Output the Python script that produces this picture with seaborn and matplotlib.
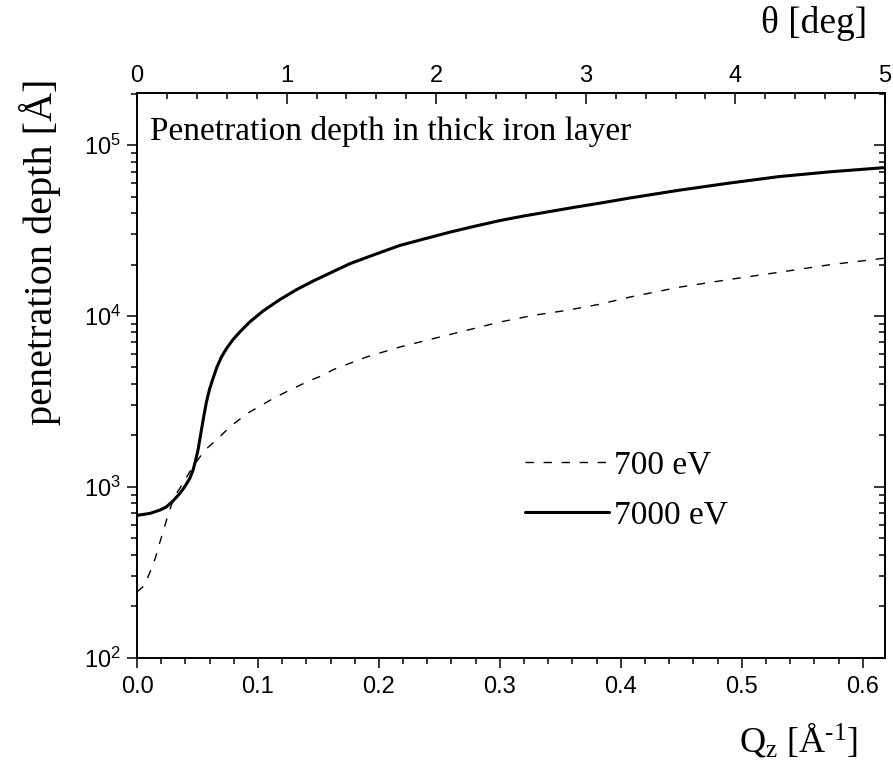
import numpy as np
import pandas as pd
import matplotlib
matplotlib.use("Agg")
import matplotlib.pyplot as plt
import seaborn as sns
from matplotlib.ticker import (MultipleLocator, LogLocator, FuncFormatter,
                               NullFormatter, FixedLocator)

# ---------------- data ----------------
qz_700 = [0.0, 0.0064, 0.0091, 0.0127, 0.0155, 0.0182, 0.0215, 0.0248, 0.0284,
          0.0326, 0.038, 0.0436, 0.0491, 0.056, 0.0642, 0.0683, 0.0766, 0.0849,
          0.0931, 0.1028, 0.1124, 0.1221, 0.1317, 0.1427, 0.1537, 0.162,
          0.1896, 0.2171, 0.2446, 0.2722, 0.2998, 0.3273, 0.3548, 0.3824,
          0.4072, 0.4485, 0.4898, 0.5312, 0.5725, 0.6184]
depth_700 = [242, 265, 297, 340, 389, 455, 544, 652, 780, 913, 1045, 1222,
             1397, 1635, 1840, 1955, 2238, 2482, 2737, 2997, 3280, 3556, 3837,
             4180, 4490, 4842, 5745, 6570, 7355, 8225, 9200, 10070, 10770,
             11700, 12880, 14740, 16350, 18030, 19930, 21800]

qz_7000 = [0.0, 0.0105, 0.0188, 0.0243, 0.0298, 0.0353, 0.0394, 0.0436, 0.0463,
           0.0485, 0.0504, 0.0518, 0.0532, 0.0551, 0.0574, 0.0601, 0.0628,
           0.0661, 0.0698, 0.0739, 0.0793, 0.0849, 0.0931, 0.1041, 0.1179,
           0.1317, 0.1455, 0.1593, 0.1758, 0.1965, 0.2171, 0.2378, 0.2584,
           0.2791, 0.2998, 0.3204, 0.3411, 0.3617, 0.3824, 0.4072, 0.4485,
           0.49, 0.5312, 0.573, 0.6184]
depth_7000 = [680, 697, 729, 762, 826, 912, 998, 1117, 1248, 1428, 1635, 1869,
              2139, 2559, 3133, 3750, 4294, 5023, 5745, 6430, 7260, 8040, 9200,
              10670, 12440, 14230, 15990, 17790, 20200, 22890, 25840, 28290,
              30900, 33500, 36150, 38550, 40840, 43280, 45700, 49000, 54500,
              60000, 65500, 69800, 73900]

series_labels = ["700 eV", "7000 eV"]
x_ticks = [0.0, 0.1, 0.2, 0.3, 0.4, 0.5, 0.6]
theta_ticks = [0, 1, 2, 3, 4, 5]
qz_max = 0.6184      # Qz at theta = 5 deg
theta_max = 5.0
y_min, y_max = 1e2, 2.02e5
title_text = "Penetration depth in thick iron layer"

# ---------------- style ----------------
sns.set_theme(style="ticks")
plt.rcParams["font.family"] = ["Liberation Sans", "DejaVu Sans"]
plt.rcParams["mathtext.fontset"] = "custom"
plt.rcParams["mathtext.rm"] = "Liberation Serif"
plt.rcParams["mathtext.it"] = "Liberation Serif:italic"
plt.rcParams["mathtext.sf"] = "Liberation Sans"
serif = ["Liberation Serif", "DejaVu Serif"]

fig = plt.figure(figsize=(8.93, 7.65), dpi=100)
ax = fig.add_axes([137 / 893, 1 - 657.5 / 765, 748 / 893, 564.5 / 765])

df = pd.DataFrame({
    "Qz": qz_700 + qz_7000,
    "depth": depth_700 + depth_7000,
    "E": [series_labels[0]] * len(qz_700) + [series_labels[1]] * len(qz_7000),
})

sns.lineplot(data=df, x="Qz", y="depth", style="E", size="E",
             dashes={series_labels[0]: (6.0, 7.0), series_labels[1]: ""},
             sizes={series_labels[0]: 1.0, series_labels[1]: 2.2},
             color="black", estimator=None, sort=False, legend=False, ax=ax)
for ln in ax.lines:
    ln.set_solid_joinstyle("round")
    ln.set_dash_joinstyle("round")

ax.set_yscale("log")
ax.set_xlim(0, qz_max)
ax.set_ylim(y_min, y_max)

lw_spine = 1.4
for s in ax.spines.values():
    s.set_linewidth(lw_spine)
    s.set_color("black")

# bottom axis
ax.xaxis.set_major_locator(FixedLocator(x_ticks))
ax.xaxis.set_minor_locator(MultipleLocator(0.02))
ax.xaxis.set_major_formatter(FuncFormatter(lambda v, p: f"{v:.1f}"))
ax.tick_params(axis="x", which="both", direction="out", top=False,
               bottom=True, colors="black", labelsize=17, pad=6)
ax.tick_params(axis="x", which="major", length=7.5, width=1.1)
ax.tick_params(axis="x", which="minor", length=4.5, width=1.1)

# left axis
ax.yaxis.set_major_locator(LogLocator(base=10, numticks=10))
ax.yaxis.set_minor_locator(LogLocator(base=10, subs=np.arange(2, 10), numticks=20))
ax.yaxis.set_major_formatter(
    FuncFormatter(lambda v, p: r"$\mathsf{10^{%d}}$" % int(round(np.log10(v)))))
ax.yaxis.set_minor_formatter(NullFormatter())
ax.tick_params(axis="y", which="both", direction="out", left=True, right=False,
               colors="black", labelsize=17, pad=4)
ax.tick_params(axis="y", which="major", length=7.5, width=1.1)
ax.tick_params(axis="y", which="minor", length=4.0, width=1.1)
ax.set_xlabel("")
ax.set_ylabel("")

# right axis (ticks pointing inward)
axr = ax.twinx()
axr.set_yscale("log")
axr.set_ylim(y_min, y_max)
axr.yaxis.set_major_locator(LogLocator(base=10, numticks=10))
axr.yaxis.set_minor_locator(LogLocator(base=10, subs=np.arange(2, 10), numticks=20))
axr.yaxis.set_major_formatter(NullFormatter())
axr.yaxis.set_minor_formatter(NullFormatter())
axr.tick_params(axis="y", which="both", direction="in", right=True,
                left=False, colors="black")
axr.tick_params(axis="y", which="major", length=8, width=1.1)
axr.tick_params(axis="y", which="minor", length=4.0, width=1.1)
for s in axr.spines.values():
    s.set_visible(False)

# top axis in theta
def q2t(q):
    return np.asarray(q) * theta_max / qz_max

def t2q(t):
    return np.asarray(t) * qz_max / theta_max

axt = ax.secondary_xaxis("top", functions=(q2t, t2q))
axt.xaxis.set_major_locator(FixedLocator(theta_ticks))
axt.xaxis.set_minor_locator(MultipleLocator(0.2))
axt.xaxis.set_major_formatter(FuncFormatter(lambda v, p: f"{v:.0f}"))
axt.tick_params(axis="x", which="both", direction="in", colors="black",
                labelsize=17, pad=4)
axt.tick_params(axis="x", which="major", length=8, width=1.1)
axt.tick_params(axis="x", which="minor", length=4.0, width=1.1)
axt.spines["top"].set_linewidth(lw_spine)

# texts
ax.text(0.0174, 0.917, title_text, transform=ax.transAxes, ha="left",
        va="baseline", fontsize=24, family=serif, color="black")
ax.text(-0.13, 0.718, "penetration depth [Å]", transform=ax.transAxes,
        rotation=90, ha="center", va="center", fontsize=29, family=serif,
        color="black")
ax.text(0.964, -0.167, r"$\mathrm{Q_z}$ [Å$^{\text{-}1}$]", transform=ax.transAxes,
        ha="right", va="baseline", fontsize=26, family=serif, color="black")
ax.text(0.976, 1.106, "θ [deg]", transform=ax.transAxes, ha="right",
        va="baseline", fontsize=27, family=serif, color="black")

# legend
handles = list(ax.lines[:2])
leg = ax.legend(handles, series_labels, loc="upper left",
                bbox_to_anchor=(0.519, 0.3676), frameon=False,
                prop={"family": serif, "size": 24}, handlelength=2.5,
                handletextpad=0.15, labelspacing=0.6, borderpad=0,
                borderaxespad=0)
for t in leg.get_texts():
    t.set_color("black")

fig.savefig("out.png", dpi=100)
